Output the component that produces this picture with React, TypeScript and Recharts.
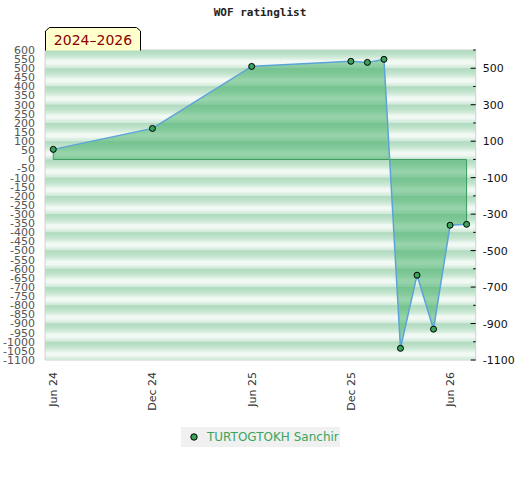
import React from "react"
import {
  Area,
  CartesianGrid,
  ComposedChart,
  Legend,
  Line,
  ReferenceArea,
  ReferenceLine,
  XAxis,
  YAxis,
} from "recharts"

// month index counted from Jun 2024
const monthIndex = [0, 6, 12, 18, 19, 20, 21, 22, 23, 24, 25]
const ratings = [55, 170, 510, 538, 532, 549, -1036, -635, -931, -361, -356]

const xTicks = [0, 6, 12, 18, 24]
const xTickLabels = ["Jun 24", "Dec 24", "Jun 25", "Dec 25", "Jun 26"]

const leftTicks = [
  600, 550, 500, 450, 400, 350, 300, 250, 200, 150, 100, 50, 0, -50, -100, -150, -200, -250,
  -300, -350, -400, -450, -500, -550, -600, -650, -700, -750, -800, -850, -900, -950, -1000,
  -1050, -1100,
]
const rightTicks = [
  600, 500, 400, 300, 200, 100, 0, -100, -200, -300, -400, -500, -600, -700, -800, -900, -1000,
  -1100,
]
const rightLabels = [500, 300, 100, -100, -300, -500, -700, -900, -1100]

const playerName = "TURTOGTOKH Sanchir"
const title = "WOF ratinglist"
const periodLabel = "2024–2026"

const data = monthIndex.map((m, i) => ({ m, v: ratings[i] }))
const first = data[0]
const last = data[data.length - 1]

const font = "'DejaVu Sans', Verdana, sans-serif"

function XTick(props: any) {
  const { x, y, payload } = props
  const idx = xTicks.indexOf(payload.value)
  return (
    <text
      transform={`translate(${x + 4},${y}) rotate(-90)`}
      textAnchor="end"
      fontSize={11}
      fontFamily={font}
      fill="#333"
    >
      {xTickLabels[idx]}
    </text>
  )
}

function RightTick(props: any) {
  const { x, y, payload } = props
  const major = rightLabels.includes(payload.value)
  return (
    <g>
      <line x1={x - (major ? 5 : 2.5)} x2={x} y1={y} y2={y} stroke="#000" strokeWidth={1} />
      {major && (
        <text x={x + 7} y={y} dy={4} fontSize={11} fontFamily={font} fill="#111">
          {payload.value}
        </text>
      )}
    </g>
  )
}

function LegendBox() {
  return (
    <div
      style={{
        background: "#f0f0f0",
        width: 159,
        height: 20,
        display: "flex",
        alignItems: "center",
        fontFamily: font,
        fontSize: 12,
        color: "#3aa55f",
        boxSizing: "border-box",
        paddingLeft: 8,
      }}
    >
      <svg width={10} height={10} style={{ marginRight: 8 }}>
        <circle cx={5} cy={5} r={3.2} fill="#3aa35c" stroke="#000" strokeWidth={1} />
      </svg>
      {playerName}
    </div>
  )
}

export default function App() {
  return (
    <div style={{ position: "absolute", left: 0, top: 0, width: 520, height: 480 }}>
      <ComposedChart
        width={520}
        height={480}
        data={data}
        margin={{ top: 50, right: 0, left: 0, bottom: 30 }}
      >
        <defs>
          <linearGradient id="stripe" x1="0" y1="0" x2="0" y2="1">
            <stop offset="0" stopColor="#aedbbe" />
            <stop offset="0.25" stopColor="#bfe2cb" />
            <stop offset="0.45" stopColor="#d6eddd" />
            <stop offset="0.6" stopColor="#f2f9f4" />
            <stop offset="0.75" stopColor="#f2f9f4" />
            <stop offset="0.87" stopColor="#dcefe3" />
            <stop offset="1" stopColor="#cfe9d8" />
          </linearGradient>
        </defs>
        <XAxis
          dataKey="m"
          type="number"
          domain={[-0.5, 25.55]}
          ticks={xTicks}
          tick={<XTick />}
          tickSize={0}
          tickMargin={12}
          axisLine={false}
          tickLine={false}
          height={70}
          interval={0}
        />
        <YAxis
          yAxisId="left"
          type="number"
          domain={[-1100, 600]}
          ticks={leftTicks}
          interval={0}
          width={45}
          tickSize={0}
          tickMargin={10}
          tickLine={false}
          axisLine={{ stroke: "#d0d0d0" }}
          tick={{ fontSize: 11, fontFamily: font, fill: "#555" }}
        />
        <YAxis
          yAxisId="right"
          orientation="right"
          type="number"
          domain={[-1100, 600]}
          ticks={rightTicks}
          interval={0}
          width={44.3}
          tickSize={0}
          tickMargin={0}
          tickLine={false}
          axisLine={{ stroke: "#d0d0d0" }}
          tick={<RightTick />}
        />
        {rightTicks
          .filter((t) => t > -1100)
          .map((t) => (
            <ReferenceArea
              key={t}
              yAxisId="left"
              y1={t - 100}
              y2={t}
              fill="url(#stripe)"
              fillOpacity={1}
              stroke="none"
              ifOverflow="visible"
            />
          ))}
        <CartesianGrid yAxisId="right" vertical={false} stroke="#d0d0d0" />
        <Area
          yAxisId="right"
          type="linear"
          dataKey="v"
          baseValue={0}
          stroke="none"
          fill="#39ab5f"
          fillOpacity={0.5}
          isAnimationActive={false}
          legendType="none"
        />
        <ReferenceLine
          yAxisId="left"
          segment={[
            { x: first.m, y: 0 },
            { x: last.m, y: 0 },
          ]}
          stroke="#3a9a5a"
        />
        <ReferenceLine
          yAxisId="left"
          segment={[
            { x: first.m, y: 0 },
            { x: first.m, y: first.v },
          ]}
          stroke="#3a9a5a"
        />
        <ReferenceLine
          yAxisId="left"
          segment={[
            { x: last.m, y: 0 },
            { x: last.m, y: last.v },
          ]}
          stroke="#3a9a5a"
        />
        <Line
          yAxisId="left"
          type="linear"
          dataKey="v"
          name={playerName}
          stroke="#5ba3d9"
          strokeWidth={1.5}
          dot={{ r: 3, fill: "#3aa35c", stroke: "#000", strokeWidth: 1 }}
          isAnimationActive={false}
        />
        <Legend
          content={<LegendBox />}
          wrapperStyle={{ left: 181, top: 427, width: 159, height: 20 }}
        />
      </ComposedChart>
      <div
        style={{
          position: "absolute",
          left: 0,
          top: 6,
          width: 520,
          textAlign: "center",
          fontFamily: "'DejaVu Sans Mono', monospace",
          fontWeight: "bold",
          fontSize: 11,
          color: "#222",
        }}
      >
        {title}
      </div>
      <svg style={{ position: "absolute", left: 0, top: 0 }} width={160} height={60}>
        <path
          d="M45.5,50.5 L45.5,31 L49.5,27.5 L136.5,27.5 L140.5,31 L140.5,50.5"
          fill="#ffffcc"
          stroke="#000"
          strokeWidth={1}
        />
        <text x={93} y={45} textAnchor="middle" fontSize={14} fontFamily={font} fill="#8b0000">
          {periodLabel}
        </text>
      </svg>
    </div>
  )
}
